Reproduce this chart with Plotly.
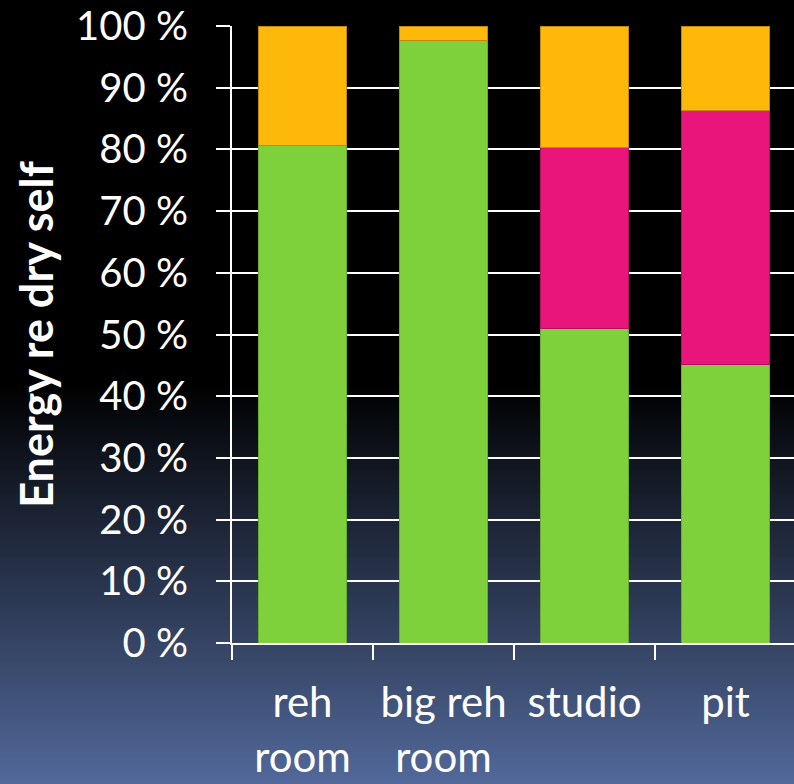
import plotly.graph_objects as go

categories = ["reh<br>room", "big reh<br>room", "studio", "pit"]
green_vals = [80.6, 97.7, 51.0, 45.2]
pink_vals = [0.0, 0.0, 29.3, 41.1]
orange_vals = [19.4, 2.3, 19.7, 13.7]
y_ticks = [0, 10, 20, 30, 40, 50, 60, 70, 80, 90, 100]
y_tick_text = [f"{v} %" for v in y_ticks]

FONT = "Lato"

fig = go.Figure()
fig.add_trace(go.Bar(x=categories, y=green_vals, marker=dict(color="#7fd13b", line=dict(color="#68ad2f", width=1)), width=0.62))
fig.add_trace(go.Bar(x=categories, y=pink_vals, marker=dict(color="#ea157a", line=dict(color="#b21060", width=1)), width=0.62))
fig.add_trace(go.Bar(x=categories, y=orange_vals, marker=dict(color="#feb80a", line=dict(color="#c08a08", width=1)), width=0.62))

# background gradient (black top -> slate blue bottom)
W, H = 794, 784
L, T, B = 232, 26, 643
shapes = []
y0g = 380
step = 3
for yp in range(y0g, H, step):
    t = (yp + step / 2 - y0g) / (H - y0g)
    r, g, b = int(82 * t), int(105 * t), int(154 * t)
    shapes.append(dict(type="rect", xref="paper", yref="paper",
                       x0=-L / (W - L), x1=1.05,
                       y0=(B - (yp + step)) / (B - T), y1=(B - yp) / (B - T),
                       fillcolor=f"rgb({r},{g},{b})", line=dict(width=0), layer="below"))

fig.update_layout(
    barmode="stack",
    width=W, height=H,
    margin=dict(l=L, r=0, t=T, b=H - B, autoexpand=False),
    paper_bgcolor="black",
    plot_bgcolor="rgba(0,0,0,0)",
    showlegend=False,
    shapes=shapes,
    font=dict(family=FONT, color="white"),
)
fig.update_yaxes(
    range=[0, 100], tickvals=y_ticks, ticktext=y_tick_text,
    automargin=False,
    showgrid=True, gridcolor="white", gridwidth=2,
    showline=True, linecolor="white", linewidth=2,
    ticks="outside", tickcolor="white", ticklen=14, tickwidth=2,
    tickfont=dict(size=40, family=FONT, color="white"),
    ticklabelstandoff=20, ticklabeloverflow="allow",
    zeroline=False,
    title=dict(text="<b>Energy re dry self</b>", font=dict(size=45, family=FONT, color="white"), standoff=8),
)
fig.update_xaxes(
    range=[-0.5, 3.486],
    automargin=False, tickangle=0,
    showline=True, linecolor="white", linewidth=2,
    ticks="outside", tickson="boundaries", tickcolor="white", ticklen=15, tickwidth=2,
    tickfont=dict(size=42, family=FONT, color="white"),
    ticklabelstandoff=22, ticklabeloverflow="allow",
    showgrid=False,
)

fig.write_html("out.html")
